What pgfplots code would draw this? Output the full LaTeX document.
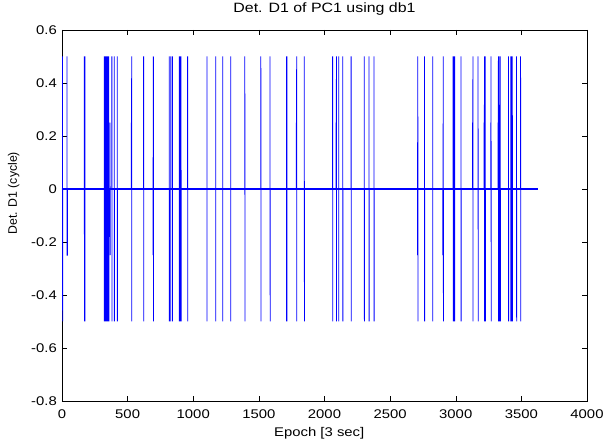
\documentclass[border=0pt]{standalone}
\usepackage{fontspec}
\setmainfont[FakeStretch=1.18]{Liberation Sans}
\newfontfamily\ylabfont{Liberation Sans}
\usepackage{pgfplots}
\pgfplotsset{compat=1.18}
\begin{document}
\begin{tikzpicture}
\useasboundingbox (-62pt,-45pt) rectangle (544pt,401pt);
\begin{axis}[
  at={(0,0)}, anchor=south west,
  scale only axis, width=525pt, height=371pt,
  xmin=0, xmax=4000, ymin=-0.8, ymax=0.6,
  xtick={0,500,1000,1500,2000,2500,3000,3500,4000},
  ytick={-0.8,-0.6,-0.4,-0.2,0,0.2,0.4,0.6},
  tick align=inside, major tick length=5pt,
  xtick pos=both, ytick pos=both,
  scaled ticks=false,
  /pgf/number format/1000 sep={},
  /pgf/number format/assume math mode=true,
  tick style={black, line width=0.5pt},
  axis line style={black, line width=0.6pt},
  tick label style={font=\fontsize{12.6}{14}\selectfont},
  xticklabel style={anchor=base, inner sep=0pt, yshift=-17.5pt},
  yticklabel style={anchor=east, inner sep=0pt, xshift=-5pt},
  title={Det. D1 of PC1 using db1},
  title style={at={([yshift=11pt]axis description cs:0.5,1)}, anchor=base, inner sep=0pt, font=\fontsize{13.5}{15}\selectfont},
  xlabel={Epoch [3 sec]},
  xlabel style={at={([yshift=-36pt]axis description cs:0.49,0)}, anchor=base, inner sep=0pt, font=\fontsize{12.6}{14}\selectfont},
  ylabel={Det. D1 (cycle)},
  ylabel style={at={([xshift=-45pt]axis description cs:0,0.56)}, anchor=base, inner sep=0pt, font=\ylabfont\fontsize{12.3}{14}\selectfont},
]
\addplot[blue, line width=1.3pt, forget plot] coordinates {(0,0) (3625,0)};
\addplot[blue, line width=0.8pt, mark=none] table {
x y
0 0
4 0
4 0.5
5 -0.5
5 0
38 0
38 0.5
39 -0.25
41 -0.25
42 0
170 0
170 0.5
171 -0.5
171 0
175 0
175 0.5
176 -0.5
176 0
322 0
322 0.5
323 -0.5
323 0
325 0
325 0.5
326 -0.5
326 0
328 0
328 0.5
329 -0.5
329 0
331 0
331 0.5
332 -0.5
332 0
334 0
334 0.5
335 -0.5
335 0
337 0
337 0.5
338 -0.5
338 0
340 0
340 0.5
341 -0.5
341 0
343 0
343 0.5
344 -0.5
344 0
346 0
346 0.5
347 -0.5
347 0
349 0
349 0.5
350 -0.5
350 0
352 0
352 0.5
353 -0.5
353 0
356 0
356 0.5
357 -0.5
357 0
366 0
366 0.25
367 -0.25
368 0
380 0
380 0.5
381 -0.5
381 0
398 0
398 0.5
399 -0.5
399 0
421 0
421 0.5
422 -0.5
422 0
528 0
528 0.25
529 0
531 0.5
532 -0.5
532 0
622 0
622 0.5
623 -0.5
623 0
693 0
693 -0.25
694 0
696 0.5
697 -0.5
697 0
817 0
817 0.5
818 -0.5
818 0
828 0
828 0.5
829 -0.5
829 0
841 0
841 0.5
842 -0.5
842 0
893 0
893 0.5
894 -0.5
894 0
898 0
898 0.5
899 -0.5
899 0
903 0
903 0.5
904 -0.5
904 0
907 0
907 0.5
908 -0.5
908 0
957 0
957 0.5
958 -0.5
958 0
1104 0
1104 0.5
1105 -0.5
1105 0
1171 0
1171 0.5
1172 -0.5
1172 0
1224 0
1224 0.5
1225 -0.5
1225 0
1285 0
1285 0.5
1286 -0.5
1286 0
1393 0
1393 0.5
1394 -0.5
1394 0
1515 0
1515 0.5
1516 -0.5
1516 0
1585 0
1585 0.5
1586 -0.5
1586 0
1710 0
1710 0.5
1711 -0.5
1711 0
1714 0
1714 0.5
1715 -0.5
1715 0
1785 0
1785 0.25
1786 0
1788 0.5
1789 -0.5
1789 0
1846 0
1846 0.5
1847 -0.5
1847 0
2062 0
2062 0.5
2063 -0.5
2063 0
2088 0
2088 0.25
2089 0
2091 0.5
2092 -0.5
2092 0
2108 0
2108 0.5
2109 -0.5
2109 0
2139 0
2139 0.5
2140 -0.5
2140 0
2203 0
2203 0.5
2204 -0.5
2204 0
2303 0
2303 0.5
2304 -0.5
2304 0
2339 0
2339 0.5
2340 -0.5
2340 0
2377 0
2377 0.5
2378 -0.5
2378 0
2708 0
2708 -0.25
2709 0
2711 0.5
2712 -0.5
2712 0
2762 0
2762 0.5
2763 -0.5
2763 0
2824 0
2824 0.5
2825 -0.5
2825 0
2902 0
2902 -0.25
2903 0
2905 0.5
2906 -0.5
2906 0
2980 0
2980 0.5
2981 -0.5
2981 0
2985 0
2985 -0.25
2986 0
2988 0.5
2989 -0.5
2989 0
2992 0
2992 0.5
2993 -0.5
2993 0
3040 0
3040 0.5
3041 -0.5
3041 0
3128 0
3128 0.25
3129 0
3131 0.5
3132 -0.5
3132 0
3170 0
3170 0.5
3171 -0.5
3171 0
3216 0
3216 0.25
3217 0
3219 0.5
3220 -0.5
3220 0
3222 0
3222 -0.25
3223 0
3225 0.5
3226 -0.5
3226 0
3266 0
3266 0.25
3267 0
3269 0.5
3270 -0.5
3270 0
3322 0
3322 0.25
3323 0
3325 0.5
3326 -0.5
3326 0
3330 0
3330 0.5
3331 -0.5
3331 0
3336 0
3336 -0.25
3337 0
3339 0.5
3340 -0.5
3340 0
3402 0
3402 0.5
3403 -0.5
3403 0
3419 0
3419 0.5
3420 -0.5
3420 0
3424 0
3424 0.25
3425 0
3427 0.5
3428 -0.5
3428 0
3431 0
3431 0.5
3432 -0.5
3432 0
3463 0
3463 0.5
3464 -0.5
3464 0
3494 0
3494 0.5
3495 -0.5
3495 0
3625 0
};
\end{axis}
\end{tikzpicture}
\end{document}
